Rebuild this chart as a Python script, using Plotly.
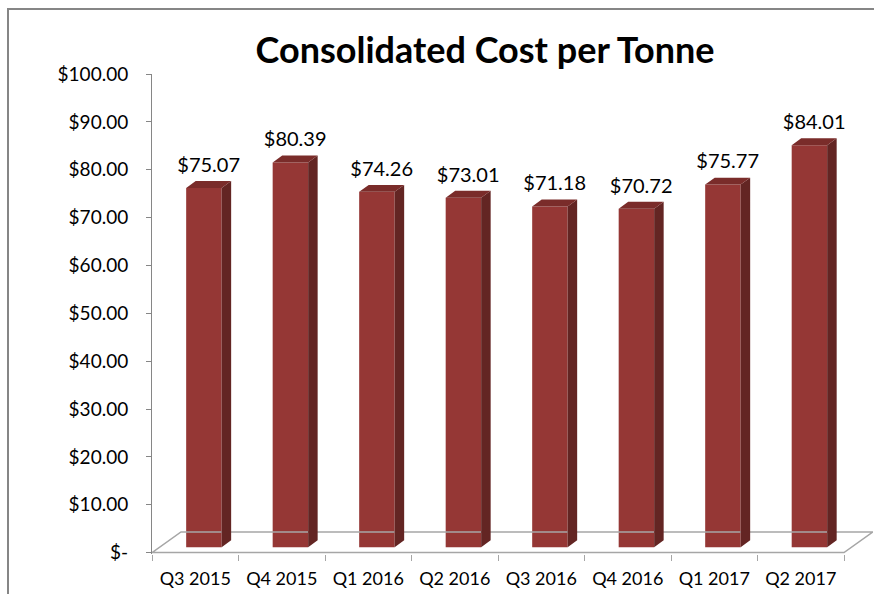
import plotly.graph_objects as go

quarters = ["Q3 2015", "Q4 2015", "Q1 2016", "Q2 2016",
            "Q3 2016", "Q4 2016", "Q1 2017", "Q2 2017"]
cost_per_tonne = [75.07, 80.39, 74.26, 73.01, 71.18, 70.72, 75.77, 84.01]

y_tick_values = [0, 10, 20, 30, 40, 50, 60, 70, 80, 90, 100]
y_tick_labels = ["$-", "$10.00", "$20.00", "$30.00", "$40.00", "$50.00",
                 "$60.00", "$70.00", "$80.00", "$90.00", "$100.00"]

# fake 3D column look, everything in axis units
FLOOR_DX, FLOOR_DY = 0.335, 4.32     # depth of the floor
BAR_W = 0.41
BAR_SHIFT = 0.10                     # front face sits right of category centre
BAR_BASE = 1.12                      # ... and slightly back into the floor
DEPTH_DX, DEPTH_DY = 0.11, 1.45      # depth of one column
LABEL_PAD = 0.9

FRONT = "#953735"
SIDE = "#632523"
TOP = "#7A2C2A"
GRID = "#A6A6A6"
FONT = "Lato, Carlito, Calibri, sans-serif"

# plot area in pixels (874 x 594 page)
L, R, T, B = 152, 1, 74, 40
W, H = 874 - L - R, 594 - T - B


def paper_x(px):
    return (px - L) / W


def paper_y(py):
    return (594 - B - py) / H


n = len(quarters)
x_lo, x_hi = -0.5, n - 0.5

fig = go.Figure()

# floor outline
fig.add_trace(go.Scatter(
    x=[x_lo, x_hi, x_hi + FLOOR_DX, x_lo + FLOOR_DX, x_lo],
    y=[0, 0, FLOOR_DY, FLOOR_DY, 0],
    mode="lines",
    line=dict(color=GRID, width=1.5),
    hoverinfo="skip",
))

# front faces
fig.add_trace(go.Bar(
    x=[i + BAR_SHIFT for i in range(n)],
    y=cost_per_tonne,
    base=BAR_BASE,
    width=BAR_W,
    marker=dict(color=FRONT, line=dict(width=0)),
    hovertext=quarters,
))

# side and top faces
side_x, side_y, top_x, top_y = [], [], [], []
for i, v in enumerate(cost_per_tonne):
    xl = i + BAR_SHIFT - BAR_W / 2
    xr = i + BAR_SHIFT + BAR_W / 2
    b = BAR_BASE
    t = BAR_BASE + v
    side_x += [xr, xr + DEPTH_DX, xr + DEPTH_DX, xr, xr, None]
    side_y += [b, b + DEPTH_DY, t + DEPTH_DY, t, b, None]
    top_x += [xl, xr, xr + DEPTH_DX, xl + DEPTH_DX, xl, None]
    top_y += [t, t, t + DEPTH_DY, t + DEPTH_DY, t, None]

fig.add_trace(go.Scatter(x=side_x, y=side_y, mode="lines", fill="toself",
                         fillcolor=SIDE, line=dict(width=0, color=SIDE),
                         hoverinfo="skip"))
fig.add_trace(go.Scatter(x=top_x, y=top_y, mode="lines", fill="toself",
                         fillcolor=TOP, line=dict(width=0, color=TOP),
                         hoverinfo="skip"))

# value labels
fig.add_trace(go.Scatter(
    x=[i + BAR_SHIFT + DEPTH_DX / 2 for i in range(n)],
    y=[BAR_BASE + v + DEPTH_DY + LABEL_PAD for v in cost_per_tonne],
    mode="text",
    text=[f"${v:.2f}" for v in cost_per_tonne],
    textposition="top center",
    textfont=dict(family=FONT, size=20, color="#000000"),
    cliponaxis=False,
    hoverinfo="skip",
))

# chart frame (left and top edges visible)
fig.add_shape(type="path", xref="paper", yref="paper",
              path=(f"M {paper_x(8)} {paper_y(600)} L {paper_x(8)} {paper_y(9)} "
                    f"L {paper_x(880)} {paper_y(9)}"),
              line=dict(color="#868686", width=2))

fig.update_layout(
    width=874, height=594,
    margin=dict(l=L, r=R, t=T, b=B),
    paper_bgcolor="white", plot_bgcolor="white",
    showlegend=False,
    font=dict(family=FONT, size=18, color="#000000"),
    title=dict(text="<b>Consolidated Cost per Tonne</b>",
               x=485 / 874, xanchor="center", xref="container",
               y=1 - 50 / 594, yanchor="middle", yref="container",
               font=dict(family=FONT, size=36, color="#000000")),
    xaxis=dict(
        range=[x_lo, x_hi + FLOOR_DX],
        tickmode="array", tickvals=list(range(n)), ticktext=quarters,
        ticks="", showgrid=False, zeroline=False, showline=False,
        ticklabelstandoff=12,
        tickfont=dict(family=FONT, size=18),
        minor=dict(tickmode="array",
                   tickvals=[k - 0.5 for k in range(n + 1)],
                   ticks="outside", ticklen=6, tickwidth=1,
                   tickcolor=GRID, showgrid=False),
    ),
    yaxis=dict(
        range=[-0.3, 100],
        tickmode="array", tickvals=y_tick_values, ticktext=y_tick_labels,
        ticks="outside", ticklen=5, tickcolor="#868686",
        showline=True, linecolor="#868686", linewidth=1,
        showgrid=False, zeroline=False,
        ticklabelstandoff=14,
        tickfont=dict(family=FONT, size=19),
    ),
)

# page body has a default margin; drop it so the figure fills the window
fig.write_html("out.html", config={"displayModeBar": False},
               post_script="document.body.style.margin = '0';")
